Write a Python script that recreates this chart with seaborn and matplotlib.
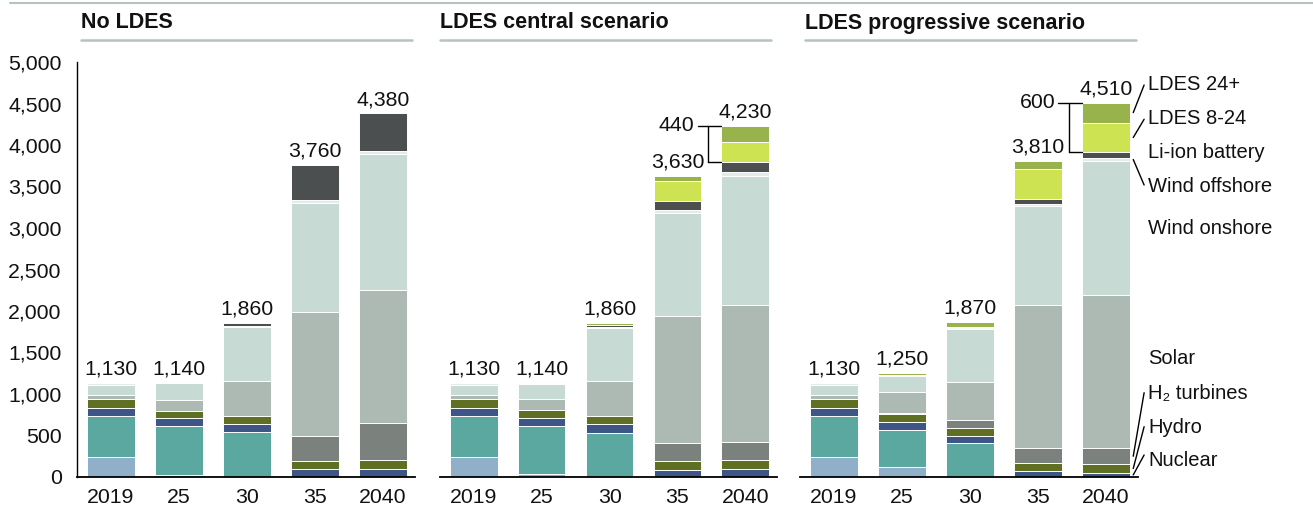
import numpy as np
import matplotlib
matplotlib.use("Agg")
import matplotlib.pyplot as plt
from matplotlib.lines import Line2D
import seaborn as sns

# ---- data (GW), one row per scenario, one value per year ----
years = ["2019", "25", "30", "35", "2040"]
scenarios = ["No LDES", "LDES central scenario", "LDES progressive scenario"]

coal = [[235, 30, 0, 0, 0], [235, 35, 0, 0, 0], [235, 115, 0, 0, 0]]
gas = [[495, 580, 540, 0, 0], [495, 575, 535, 0, 0], [495, 450, 405, 0, 0]]
nuclear = [[105, 95, 100, 95, 100], [105, 95, 100, 90, 100], [105, 95, 95, 75, 50]]
hydro = [[100, 95, 100, 100, 100], [100, 100, 100, 105, 100], [100, 100, 95, 95, 105]]
h2_turbines = [[0, 0, 0, 300, 455], [0, 0, 0, 215, 220], [0, 15, 95, 185, 190]]
solar = [[50, 130, 420, 1490, 1595], [50, 130, 425, 1530, 1650], [50, 245, 450, 1715, 1845]]
wind_onshore = [[120, 200, 650, 1320, 1640], [120, 190, 630, 1245, 1560], [120, 200, 640, 1195, 1620]]
wind_offshore = [[25, 10, 10, 30, 40], [25, 5, 15, 30, 40], [25, 5, 10, 30, 30]]
li_ion = [[0, 0, 40, 425, 450], [0, 0, 30, 110, 120], [0, 0, 20, 60, 70]]
ldes_8_24 = [[0, 0, 0, 0, 0], [0, 0, 0, 240, 250], [0, 5, 0, 355, 360]]
ldes_24 = [[0, 0, 0, 0, 0], [0, 10, 25, 65, 190], [0, 20, 60, 100, 240]]

layers = [coal, gas, nuclear, hydro, h2_turbines, solar, wind_onshore,
          wind_offshore, li_ion, ldes_8_24, ldes_24]
layer_colors = ["#8fb0c8", "#5ba8a0", "#3d5587", "#5f7023", "#7b817c", "#adbab3",
                "#c8dad4", "#e4ebe8", "#4b4f4f", "#cde352", "#98b24c"]

# right-hand labels (panel 3): text, layer index for leader line (or None)
side_labels = ["LDES 24+", "LDES 8-24", "Li-ion battery", "Wind offshore", "Wind onshore",
               "Solar", "H\u2082 turbines", "Hydro", "Nuclear"]
side_layers = [10, 9, None, 7, None, None, 4, 3, 2]
side_y = [4723, 4325, 3904, 3494, 3000, 1422, 1012, 602, 193]
leader_start_y = [4723, 4310, None, 3518, None, None, 1016, 606, 265]

sns.set_theme(style="white")
plt.rcParams["font.family"] = ["Liberation Sans", "DejaVu Sans"]
txt = "#111111"
num_size = 15.3
lab_size = 14.5

W, H = 1313, 508
fig = plt.figure(figsize=(W / 100, H / 100), dpi=100)

ax_left = [77, 440, 800]
ax_width = [338, 337, 338]
title_x = [81, 440, 805]
title_end = [412, 771, 1136]

# top rule across the figure
fig.add_artist(Line2D([10 / W, 1], [1 - 3 / H] * 2, color="#b3c4bf", lw=1.5))

for p in range(3):
    ax = fig.add_axes([ax_left[p] / W, 31 / H, ax_width[p] / W, 415 / H])
    vals = np.array([layer[p] for layer in layers])
    cum = vals.cumsum(axis=0)

    # overlay cumulative bars, top layer first
    for i in reversed(range(len(layers))):
        sns.barplot(x=years, y=cum[i], order=years, color=layer_colors[i],
                    saturation=1, width=0.7, errorbar=None,
                    edgecolor="white", linewidth=0.7, ax=ax)

    totals = cum[-1]
    for j, t in enumerate(totals):
        ax.annotate(f"{t:,}", (j, t), xytext=(0, 6), textcoords="offset points",
                    ha="center", va="baseline", fontsize=num_size, color=txt)

    ax.set_xlim(-0.5, 4.47)
    ax.set_ylim(0, 5000)
    ax.set_xlabel("")
    ax.set_ylabel("")
    ax.tick_params(axis="x", length=0, pad=8, labelsize=num_size, labelcolor=txt)
    ax.spines[["top", "right"]].set_visible(False)
    ax.spines["bottom"].set_color("black")
    ax.spines["bottom"].set_linewidth(1.3)
    if p == 0:
        ax.set_yticks(range(0, 5001, 500))
        ax.set_yticklabels([f"{v:,}" for v in range(0, 5001, 500)])
        ax.tick_params(axis="y", length=0, pad=11, labelsize=num_size, labelcolor=txt)
        ax.spines["left"].set_color("black")
        ax.spines["left"].set_linewidth(1.0)
    else:
        ax.set_yticks([])
        ax.spines["left"].set_visible(False)

        # bracket for the LDES share of the 2040 bar
        top = totals[4]
        bottom = cum[8][4]
        xv, xe = 3.45, 3.65
        kw = dict(color="black", lw=1, clip_on=False)
        ax.plot([3.30, xe], [top, top], **kw)
        ax.plot([xv, xv], [top, bottom], **kw)
        ax.plot([xv, xe], [bottom, bottom], **kw)
        ax.text(3.25, top, f"{top - bottom:,}", ha="right", va="center",
                fontsize=num_size, color=txt)

    if p == 2:
        for k, lab in enumerate(side_labels):
            ax.text(4.62, side_y[k], lab, ha="left", va="center",
                    fontsize=lab_size, color=txt, clip_on=False)
            li = side_layers[k]
            if li is not None:
                seg_mid = cum[li][4] - vals[li][4] / 2
                ax.plot([4.56, 4.40], [leader_start_y[k], seg_mid],
                        color="black", lw=1, clip_on=False)

    # panel title with underline
    fig.text(title_x[p] / W, 1 - 23 / H, scenarios[p], ha="left", va="center",
             fontsize=15.5, fontweight="bold", color=txt)
    fig.add_artist(Line2D([title_x[p] / W, title_end[p] / W], [1 - 40 / H] * 2,
                          color="#b3c4bf", lw=1.8))

fig.savefig("out.png", dpi=100)
